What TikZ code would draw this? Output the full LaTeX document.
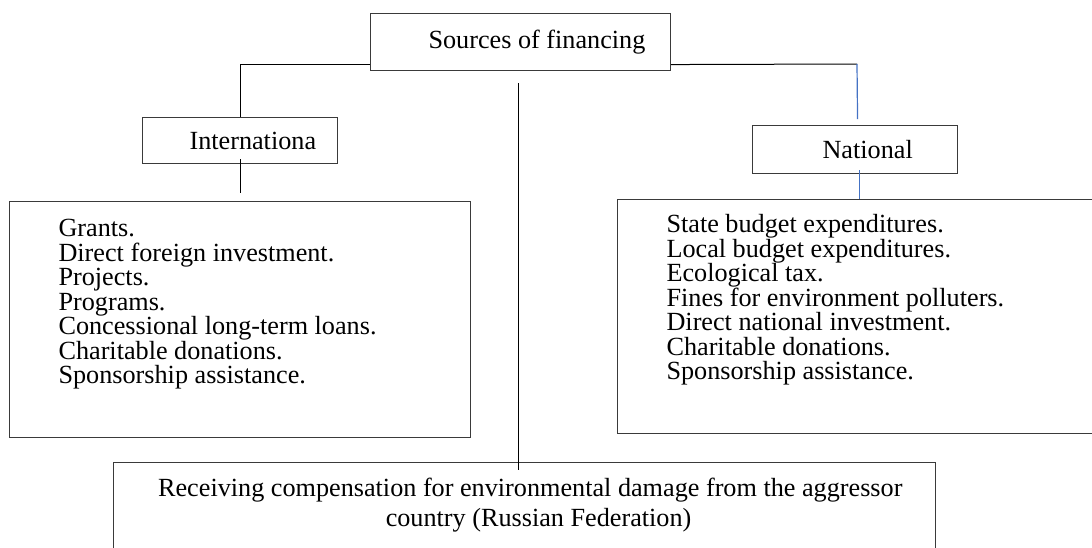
\documentclass[tikz,border=0pt]{standalone}
\usepackage{fontspec}
\setmainfont{Liberation Serif}
\definecolor{wordblue}{HTML}{4472C4}
\definecolor{boxline}{HTML}{3A3A3A}
\newcommand{\onebox}[4]{\parbox[c][#2][c]{#1}{\hspace*{#3}#4}}
\newcommand{\listbox}[5]{\parbox[c][#2][t]{#1}{\vspace*{#4}\leftskip=#3\relax\parindent=0pt\fontsize{26.2}{24.5}\selectfont #5\par}}
\tikzset{
  box/.style={draw=boxline, line width=1.1pt, inner sep=0pt, anchor=north west, font=\fontsize{26.2}{24.5}\selectfont},
  conn/.style={draw=black, line width=1pt},
  blueconn/.style={draw=wordblue, line width=1.2pt}
}
\begin{document}
\begin{tikzpicture}[x=1pt,y=-1pt]
\useasboundingbox (0,0) rectangle (1092,547);
% boxes
\node[box] (top) at (370,13) {\onebox{300pt}{57pt}{58pt}{Sources of financing}};
\node[box] (intl) at (142,117) {\onebox{195pt}{46pt}{47pt}{Internationa}};
\node[box] (nat) at (752,125) {\onebox{205pt}{48pt}{70pt}{National}};
\node[box] (llist) at (9,201) {\listbox{461pt}{236pt}{49pt}{18pt}{Grants.\\Direct foreign investment.\\Projects.\\Programs.\\Concessional long-term loans.\\Charitable donations.\\Sponsorship assistance.}};
\node[box] (rlist) at (617,199) {\listbox{490pt}{234pt}{49pt}{15pt}{State budget expenditures.\\Local budget expenditures.\\Ecological tax.\\Fines for environment polluters.\\Direct national investment.\\Charitable donations.\\Sponsorship assistance.}};
\node[box] (comp) at (113,462) {\parbox[c][110pt][t]{822pt}{\vspace*{15pt}\fontsize{26.2}{30}\selectfont\leftskip=28pt plus 1fil\rightskip=0pt plus 1fil\parfillskip=0pt\parindent=0pt Receiving compensation for environmental damage from the aggressor\\country (Russian Federation)\par}};
% connectors
\coordinate (rc) at (857,64);
\draw[conn] ([yshift=-22.5pt]top.west) -| (intl.north);
\draw[conn] ([yshift=-22.5pt]top.east) -- (rc);
\draw[blueconn] (rc) -- ([xshift=2.5pt,yshift=6pt]nat.north);
\draw[blueconn] ([xshift=4.5pt,yshift=4pt]nat.south) -- ([xshift=4.5pt]nat.south |- rlist.north);
\draw[conn] ([yshift=5pt]intl.south) -- ([yshift=-29pt]intl.south);
\draw[conn] ([xshift=-2pt,yshift=-12pt]top.south) -- ([xshift=-2pt,yshift=-8pt]top.south |- comp.north);
\end{tikzpicture}
\end{document}
